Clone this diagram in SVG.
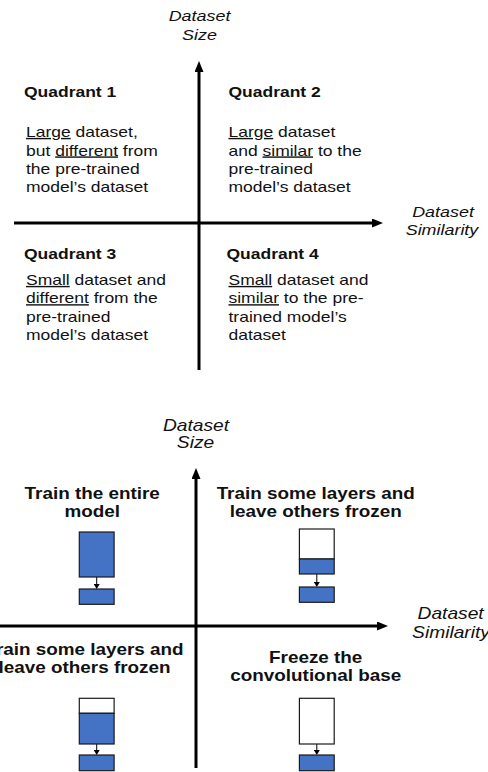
<svg xmlns="http://www.w3.org/2000/svg" width="488" height="772" viewBox="0 0 488 772">
<style>
  text { font-family: "Liberation Sans", Arial, sans-serif; fill: #111; }
  .ax { font-style: italic; font-size: 14px; text-anchor: middle; }
  .ax2 { font-style: italic; font-size: 16px; text-anchor: middle; }
  .qt { font-weight: bold; font-size: 14px; }
  .bd { font-size: 14px; }
  .bt { font-weight: bold; font-size: 16px; text-anchor: middle; }
  .u { text-decoration: underline; }
  .axis { stroke: #000; stroke-width: 3; fill: none; }
  .blue { fill: #4472C4; stroke: #1a1a1a; stroke-width: 1.2; }
  .white { fill: #fff; stroke: #1a1a1a; stroke-width: 1.2; }
  .link { stroke: #000; stroke-width: 1; fill: none; }
</style>
<defs>
  <marker id="ah" markerUnits="userSpaceOnUse" viewBox="0 0 11 9" refX="0" refY="4.5" markerWidth="11" markerHeight="9" orient="auto">
    <path d="M0,0 L11,4.5 L0,9 z" fill="#000"/>
  </marker>
  <marker id="sa" markerUnits="userSpaceOnUse" viewBox="0 0 5 6" refX="0" refY="3" markerWidth="5" markerHeight="6" orient="auto">
    <path d="M0,0 L5,3 L0,6 z" fill="#000"/>
  </marker>
</defs>
<rect width="488" height="772" fill="#fff"/>

<g id="connectors">
  <line class="axis" x1="199" y1="370" x2="199" y2="72" marker-end="url(#ah)"/>
  <line class="axis" x1="14" y1="223" x2="372" y2="223" marker-end="url(#ah)"/>
  <line class="axis" x1="196" y1="768" x2="196" y2="479" marker-end="url(#ah)"/>
  <line class="axis" x1="0" y1="626" x2="377" y2="626" marker-end="url(#ah)"/>
  <line class="link" x1="96.7" y1="577" x2="96.7" y2="584" marker-end="url(#sa)"/>
  <line class="link" x1="316.8" y1="574" x2="316.8" y2="582" marker-end="url(#sa)"/>
  <line class="link" x1="96.7" y1="744" x2="96.7" y2="750" marker-end="url(#sa)"/>
  <line class="link" x1="316.8" y1="744" x2="316.8" y2="750" marker-end="url(#sa)"/>
</g>

<g id="axis-labels-top">
  <text class="ax" transform="matrix(1.28,0,0,1,199.5,21)">Dataset</text>
  <text class="ax" transform="matrix(1.28,0,0,1,199.5,39.5)">Size</text>
  <text class="ax" transform="matrix(1.28,0,0,1,443,217)">Dataset</text>
  <text class="ax" transform="matrix(1.28,0,0,1,442,235)">Similarity</text>
</g>

<g id="quadrant1">
  <text class="qt" transform="matrix(1.25,0,0,1,24,97)">Quadrant 1</text>
  <text class="bd" transform="matrix(1.25,0,0,1,26,137)"><tspan class="u">Large</tspan> dataset,</text>
  <text class="bd" transform="matrix(1.25,0,0,1,26,155.5)">but <tspan class="u">different</tspan> from</text>
  <text class="bd" transform="matrix(1.25,0,0,1,26,174)">the pre-trained</text>
  <text class="bd" transform="matrix(1.25,0,0,1,26,192)">model’s dataset</text>
</g>
<g id="quadrant2">
  <text class="qt" transform="matrix(1.25,0,0,1,228.5,97)">Quadrant 2</text>
  <text class="bd" transform="matrix(1.25,0,0,1,228.5,137)"><tspan class="u">Large</tspan> dataset</text>
  <text class="bd" transform="matrix(1.25,0,0,1,228.5,155.5)">and <tspan class="u">similar</tspan> to the</text>
  <text class="bd" transform="matrix(1.25,0,0,1,228.5,174)">pre-trained</text>
  <text class="bd" transform="matrix(1.25,0,0,1,228.5,192)">model’s dataset</text>
</g>
<g id="quadrant3">
  <text class="qt" transform="matrix(1.25,0,0,1,24,259)">Quadrant 3</text>
  <text class="bd" transform="matrix(1.25,0,0,1,26,285)"><tspan class="u">Small</tspan> dataset and</text>
  <text class="bd" transform="matrix(1.25,0,0,1,26,303.3)"><tspan class="u">different</tspan> from the</text>
  <text class="bd" transform="matrix(1.25,0,0,1,26,321.7)">pre-trained</text>
  <text class="bd" transform="matrix(1.25,0,0,1,26,340)">model’s dataset</text>
</g>
<g id="quadrant4">
  <text class="qt" transform="matrix(1.25,0,0,1,226.5,259)">Quadrant 4</text>
  <text class="bd" transform="matrix(1.25,0,0,1,228.5,285)"><tspan class="u">Small</tspan> dataset and</text>
  <text class="bd" transform="matrix(1.25,0,0,1,228.5,303.3)"><tspan class="u">similar</tspan> to the pre-</text>
  <text class="bd" transform="matrix(1.25,0,0,1,228.5,321.7)">trained model’s</text>
  <text class="bd" transform="matrix(1.25,0,0,1,228.5,340)">dataset</text>
</g>

<g id="axis-labels-bottom">
  <text class="ax2" transform="matrix(1.2,0,0,1,196,430.7)">Dataset</text>
  <text class="ax2" transform="matrix(1.2,0,0,1,195.5,448.3)">Size</text>
  <text class="ax2" transform="matrix(1.2,0,0,1,450.6,619)">Dataset</text>
  <text class="ax2" transform="matrix(1.2,0,0,1,451,638)">Similarity</text>
</g>

<g id="strategy1">
  <text class="bt" transform="matrix(1.18,0,0,1,92.2,499)">Train the entire</text>
  <text class="bt" transform="matrix(1.18,0,0,1,92.2,516.7)">model</text>
  <rect class="blue" x="79.3" y="532" width="34.8" height="45"/>
  <rect class="blue" x="79.3" y="589" width="34.8" height="15.3"/>
</g>
<g id="strategy2">
  <text class="bt" transform="matrix(1.18,0,0,1,315.7,499)">Train some layers and</text>
  <text class="bt" transform="matrix(1.18,0,0,1,315.7,516.7)">leave others frozen</text>
  <rect class="white" x="299.4" y="529" width="34.8" height="30"/>
  <rect class="blue" x="299.4" y="559" width="34.8" height="15"/>
  <rect class="blue" x="299.4" y="587" width="34.8" height="15.3"/>
</g>
<g id="strategy3">
  <text class="bt" transform="matrix(1.18,0,0,1,84.5,655)">Train some layers and</text>
  <text class="bt" transform="matrix(1.18,0,0,1,84.5,672.7)">leave others frozen</text>
  <rect class="white" x="79.3" y="698.3" width="34.8" height="15"/>
  <rect class="blue" x="79.3" y="713.3" width="34.8" height="30.7"/>
  <rect class="blue" x="79.3" y="755" width="34.8" height="15.7"/>
</g>
<g id="strategy4">
  <text class="bt" transform="matrix(1.18,0,0,1,315.7,663.3)">Freeze the</text>
  <text class="bt" transform="matrix(1.18,0,0,1,315.7,680.7)">convolutional base</text>
  <rect class="white" x="299.4" y="698.3" width="34.8" height="45.7"/>
  <rect class="blue" x="299.4" y="755" width="34.8" height="15.7"/>
</g>
</svg>
